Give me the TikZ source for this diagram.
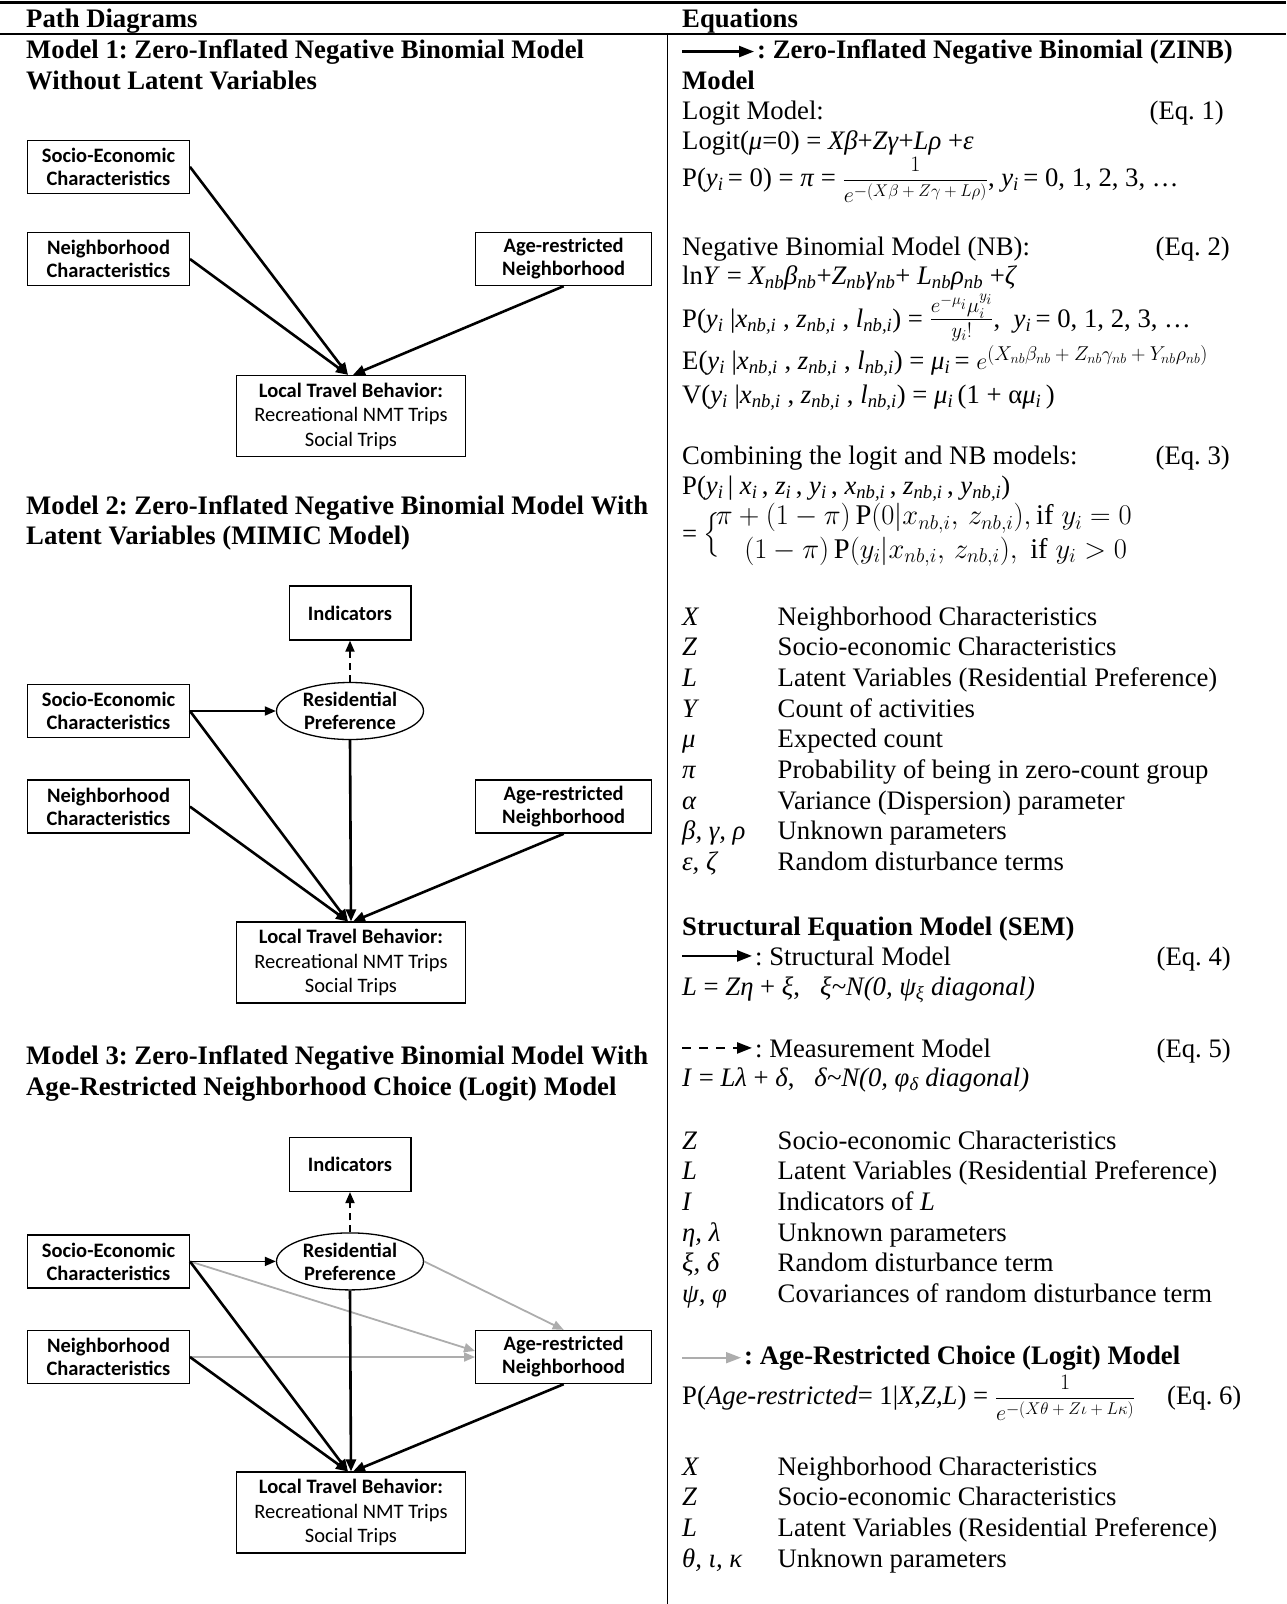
\RequirePackage{fix-cm}
\documentclass[tikz,border=0pt]{standalone}
\usepackage{amsmath}
\usepackage{fontspec}
\setmainfont{Liberation Serif}
\newfontfamily\boxfont{Carlito}
\usetikzlibrary{arrows.meta, positioning, shapes.geometric}
\definecolor{logitgray}{gray}{0.68}
\newcommand{\low}[1]{\textsubscript{#1}}
\frenchspacing

\begin{document}
\begin{tikzpicture}[x=1pt, y=-1pt, on grid,
    txt/.style={anchor=base west, inner sep=0pt, font=\fontsize{26.7}{30.7}\selectfont},
    hd/.style={txt, font=\fontsize{26.7}{30.7}\selectfont\bfseries},
    eqn/.style={anchor=base east, inner sep=0pt, font=\fontsize{26.7}{30.7}\selectfont},
    pbox/.style={draw, line width=1.3pt, minimum width=161.6pt, minimum height=53pt, inner sep=0pt, align=center, font=\boxfont\bfseries\fontsize{20.5}{23}\selectfont},
    agebox/.style={pbox, minimum width=176pt},
    indbox/.style={pbox, minimum width=121.7pt, minimum height=54pt},
    travelbox/.style={pbox, minimum width=229pt, minimum height=81pt, font=\boxfont\fontsize{20.5}{24.5}\selectfont},
    latent/.style={ellipse, draw, line width=1.3pt, minimum width=147pt, minimum height=57pt, inner sep=0pt, align=center, font=\boxfont\bfseries\fontsize{20.5}{23}\selectfont},
    zinb/.style={-{Triangle[length=12pt,width=10pt]}, line width=2.6pt},
    sem/.style={-{Triangle[length=11pt,width=9pt]}, line width=1.8pt},
    measure/.style={-{Triangle[length=11pt,width=9pt]}, line width=1.8pt, dash pattern=on 7pt off 5pt},
    logit/.style={-{Triangle[length=11pt,width=9pt]}, line width=1.8pt, draw=logitgray},
    legendarrow/.style={-{Triangle[length=15pt,width=11pt]}, line width=2.4pt}]
    \useasboundingbox (0,0) rectangle (1286,1604);

    \draw [line width=3pt] (0,2.5) -- (1286,2.5);
    \draw [line width=2pt] (0,34) -- (1286,34);
    \draw [line width=1.5pt] (667.5,34) -- (667.5,1604);

    \node (pathhd) [hd] at (26,27) {Path Diagrams};
    \node (eqhd) [hd] at (682,27) {Equations};

    % model 1
    \node (mod1a) [hd] at (26,58) {Model 1: Zero-Inflated Negative Binomial Model};
    \node (mod1b) [hd] at (26,89) {Without Latent Variables};
    \node (soc1) [pbox] at (108.5,166.8) {Socio-Economic\\Characteristics};
    \node (nbh1) [pbox, below=92.2pt of soc1] {Neighborhood\\Characteristics};
    \node (age1) [agebox, right=455.2pt of nbh1] {Age-restricted\\Neighborhood};
    \node (ltb1) [travelbox, below right=157pt and 242.5pt of nbh1] {\textbf{Local Travel Behavior:}\\Recreational NMT Trips\\Social Trips};

    \draw [zinb] (soc1.east) -- ([xshift=-3pt]ltb1.north);
    \draw [zinb] (nbh1.east) -- ([xshift=-3pt]ltb1.north);
    \draw [zinb] (age1.south) -- ([xshift=2pt]ltb1.north);

    % model 2
    \node (mod2a) [hd] at (26,514) {Model 2: Zero-Inflated Negative Binomial Model With};
    \node (mod2b) [hd] at (26,544) {Latent Variables (MIMIC Model)};
    \node (soc2) [pbox] at (108.5,711) {Socio-Economic\\Characteristics};
    \node (nbh2) [pbox, below=95.6pt of soc2] {Neighborhood\\Characteristics};
    \node (age2) [agebox, right=455.2pt of nbh2] {Age-restricted\\Neighborhood};
    \node (ltb2) [travelbox, below right=156pt and 242.5pt of nbh2] {\textbf{Local Travel Behavior:}\\Recreational NMT Trips\\Social Trips};
    \node (res2) [latent, right=241.5pt of soc2] {Residential\\Preference};
    \node (ind2) [indbox, above=98pt of res2] {Indicators};

    \draw [sem] (soc2.east) -- (res2.west);
    \draw [zinb] (soc2.east) -- ([xshift=-3pt]ltb2.north);
    \draw [zinb] (nbh2.east) -- ([xshift=-3pt]ltb2.north);
    \draw [zinb] (res2.south) -- (ltb2.north);
    \draw [zinb] (age2.south) -- ([xshift=2pt]ltb2.north);
    \draw [measure] (res2.north) -- (ind2.south);

    % model 3
    \node (mod3a) [hd] at (26,1064) {Model 3: Zero-Inflated Negative Binomial Model With};
    \node (mod3b) [hd] at (26,1095) {Age-Restricted Neighborhood Choice (Logit) Model};
    \node (soc3) [pbox] at (108.5,1261.4) {Socio-Economic\\Characteristics};
    \node (nbh3) [pbox, below=95.6pt of soc3] {Neighborhood\\Characteristics};
    \node (age3) [agebox, right=455.2pt of nbh3] {Age-restricted\\Neighborhood};
    \node (ltb3) [travelbox, below right=155.6pt and 242.5pt of nbh3] {\textbf{Local Travel Behavior:}\\Recreational NMT Trips\\Social Trips};
    \node (res3) [latent, right=241.5pt of soc3] {Residential\\Preference};
    \node (ind3) [indbox, above=97pt of res3] {Indicators};

    \draw [logit] (soc3.east) -- ([yshift=6pt]age3.west);
    \draw [logit] (nbh3.east) -- (age3.west);
    \draw [logit] (res3.east) -- (age3.north);
    \draw [sem] (soc3.east) -- (res3.west);
    \draw [zinb] (soc3.east) -- ([xshift=-3pt]ltb3.north);
    \draw [zinb] (nbh3.east) -- ([xshift=-3pt]ltb3.north);
    \draw [zinb] (res3.south) -- (ltb3.north);
    \draw [zinb] (age3.south) -- ([xshift=2pt]ltb3.north);
    \draw [measure] (res3.north) -- (ind3.south);

    % equations
    \coordinate (leg) at (682,0);
    \node (zinbt) [hd] at (757,58) {: Zero-Inflated Negative Binomial (ZINB)};
    \draw [legendarrow] (leg |- zinbt.west) -- ([xshift=-3pt]zinbt.west);
    \node (zinbm) [hd] at (682,89) {Model};
    \node (lgt) [txt] at (682,119) {Logit Model:};
    \node (eq1) [eqn] at (1224,119) {(Eq. 1)};
    \node (lgta) [txt] at (682,149) {Logit(\textit{μ}=0) = \textit{Xβ}+\textit{Zγ}+\textit{Lρ} +\textit{ε}};
    \node (lgtb) [txt] at (682,186) {P(\textit{y\low{i}}\,= 0) = \textit{π} = {\fontsize{22}{22}\selectfont$\displaystyle\frac{1}{e^{\mbox{\fontsize{17}{17}\selectfont$-(X\beta+Z\gamma+L\rho)$}}}$},\ \textit{y\low{i}}\,= 0, 1, 2, 3, …};

    \node (nb) [txt] at (682,255) {Negative Binomial Model (NB):};
    \node (eq2) [eqn] at (1230,255) {(Eq. 2)};
    \node (nba) [txt] at (682,284) {ln\textit{Y} = \textit{X\low{nb}β\low{nb}}+\textit{Z\low{nb}γ\low{nb}}+ \textit{L\low{nb}ρ\low{nb}} +\textit{ζ}};
    \node (nbb) [txt] at (682,327) {P(\textit{y\low{i}} |\textit{x\low{nb,i}} , \textit{z\low{nb,i}} , \textit{l\low{nb,i}}) = {\fontsize{30}{30}\selectfont$\frac{e^{-\mu_i}\mu_i^{y_i}}{y_i!}$},\ \ \textit{y\low{i}}\,= 0, 1, 2, 3, …};
    \node (nbc) [txt] at (682,369) {E(\textit{y\low{i}} |\textit{x\low{nb,i}} , \textit{z\low{nb,i}} , \textit{l\low{nb,i}}) = \textit{μ\low{i}}\,= {\fontsize{24}{24}\selectfont$e^{\mbox{\fontsize{20}{20}\selectfont$(X_{nb}\beta_{nb}+Z_{nb}\gamma_{nb}+Y_{nb}\rho_{nb})$}}$}};
    \node (nbd) [txt] at (682,403) {V(\textit{y\low{i}} |\textit{x\low{nb,i}} , \textit{z\low{nb,i}} , \textit{l\low{nb,i}}) = \textit{μ\low{i}}\,(1 + α\textit{μ\low{i}}\,)};

    \node (cmb) [txt] at (682,464) {Combining the logit and NB models:};
    \node (eq3) [eqn] at (1230,464) {(Eq. 3)};
    \node (cmba) [txt] at (682,494) {P(\textit{y\low{i}}\,| \textit{x\low{i}}\,, \textit{z\low{i}}\,, \textit{y\low{i}}\,, \textit{x\low{nb,i}}\,, \textit{z\low{nb,i}}\,, \textit{y\low{nb,i}})};
    \node (cmbb) [txt] at (682,542) {\renewcommand{\arraystretch}{1.1}= $\Big\{$\fontsize{28.5}{30.7}\selectfont$\!\begin{array}{@{}l@{}}\pi+(1-\pi)\,\mathrm{P}(0|x_{nb,i},\,z_{nb,i}),\mathrm{if}\;y_i=0\\ \quad(1-\pi)\,\mathrm{P}(y_i|x_{nb,i},\,z_{nb,i}),\;\mathrm{if}\;y_i>0\end{array}$};

    \foreach \s/\d [count=\k from 0] in {X/Neighborhood Characteristics, Z/Socio-economic Characteristics, L/Latent Variables (Residential Preference), Y/Count of activities, μ/Expected count, π/Probability of being in zero-count group, α/Variance (Dispersion) parameter, {β, γ, ρ}/Unknown parameters, {ε, ζ}/Random disturbance terms}{
        \node (syma\k) [txt] at (682,625+30.7*\k) {\textit{\s}};
        \node (desa\k) [txt] at (777.5,625+30.7*\k) {\d};
    }

    \node (semhd) [hd] at (682,935) {Structural Equation Model (SEM)};
    \node (strt) [txt] at (755,965) {: Structural Model};
    \draw [legendarrow] (leg |- strt.west) -- ([xshift=-3pt]strt.west);
    \node (eq4) [eqn] at (1231,965) {(Eq. 4)};
    \node (stra) [txt] at (682,995) {\textit{L} = \textit{Zη} + \textit{ξ},\ \ \ \textit{ξ\textasciitilde N(0, ψ\low{ξ} diagonal)}};
    \node (meat) [txt] at (755,1057) {: Measurement Model};
    \draw [legendarrow, dash pattern=on 9pt off 8pt] (leg |- meat.west) -- ([xshift=-3pt]meat.west);
    \node (eq5) [eqn] at (1231,1057) {(Eq. 5)};
    \node (meaa) [txt] at (682,1086) {\textit{I} = \textit{Lλ} + \textit{δ},\ \ \ \textit{δ\textasciitilde N(0, φ\low{δ} diagonal)}};

    \foreach \s/\d [count=\k from 0] in {Z/Socio-economic Characteristics, L/Latent Variables (Residential Preference), I/Indicators of \textit{L}, {η, λ}/Unknown parameters, {ξ, δ}/Random disturbance term, {ψ, φ}/Covariances of random disturbance term}{
        \node (symb\k) [txt] at (682,1149+30.7*\k) {\textit{\s}};
        \node (desb\k) [txt] at (777.5,1149+30.7*\k) {\d};
    }

    \node (aget) [hd] at (744,1364) {: Age-Restricted Choice (Logit) Model};
    \draw [legendarrow, line width=1.8pt, draw=logitgray] (leg |- aget.west) -- ([xshift=-3pt]aget.west);
    \node (agea) [txt] at (682,1404) {P(\textit{Age-restricted}= 1|\textit{X,Z,L}) = {\fontsize{22}{22}\selectfont$\displaystyle\frac{1}{e^{\mbox{\fontsize{17}{17}\selectfont$-(X\theta+Z\iota+L\kappa)$}}}$}};
    \node (eq6) [txt] at (1167,1404) {(Eq. 6)};

    \foreach \s/\d [count=\k from 0] in {X/Neighborhood Characteristics, Z/Socio-economic Characteristics, L/Latent Variables (Residential Preference), {θ, ι, κ}/Unknown parameters}{
        \node (symc\k) [txt] at (682,1475+30.7*\k) {\textit{\s}};
        \node (desc\k) [txt] at (777.5,1475+30.7*\k) {\d};
    }
\end{tikzpicture}
\end{document}
